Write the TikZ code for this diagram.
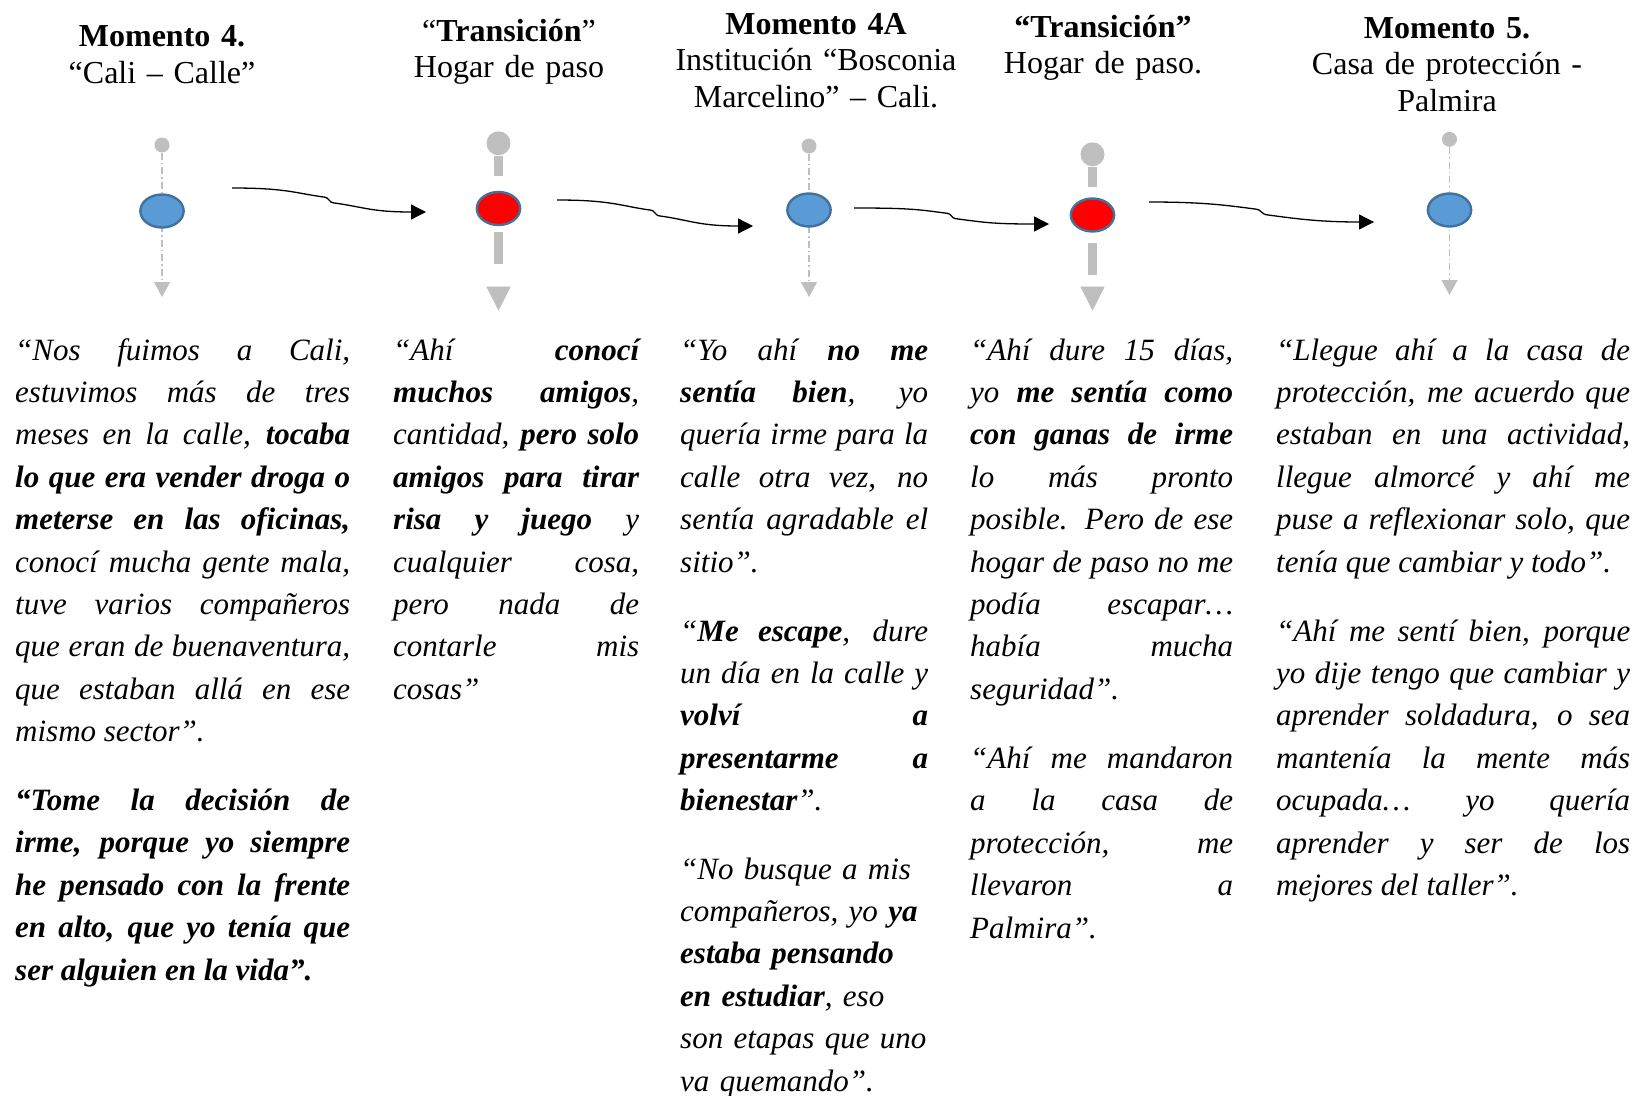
\documentclass[tikz,border=0pt]{standalone}
\usepackage{fontspec}
\setmainfont{Liberation Serif}
\usetikzlibrary{arrows.meta,calc,shapes.geometric}
\definecolor{dotblue}{HTML}{5B9BD5}
\definecolor{rimblue}{HTML}{41719C}
\definecolor{stemgray}{HTML}{BFBFBF}
\tolerance=10000
\hbadness=10000
\hyphenpenalty=10000
\tikzset{
	stagetitle/.style={font=\fontsize{32}{36.7}\selectfont, align=center, text width=360pt, inner sep=0pt, anchor=base},
	saying/.style={font=\fontsize{31}{42.4}\selectfont\itshape, align=justify, inner sep=0pt, anchor=base west},
	blueball/.style={ellipse, draw=rimblue, fill=dotblue, line width=2.4pt, minimum width=43.3pt, minimum height=33pt, inner sep=0pt},
	redball/.style={blueball, fill=red},
	tipdot/.style={circle, fill=stemgray, inner sep=0pt, minimum size=15pt},
	bigtipdot/.style={tipdot, minimum size=24pt},
	thinstem/.style={draw=stemgray, line width=1.2pt, dash pattern=on 7pt off 3pt on 1.5pt off 3pt, -{Triangle[length=15pt,width=16pt]}},
	thickstem/.style={draw=stemgray, line width=8.3pt, dash pattern=on 20pt off 56.5pt on 31.5pt off 60pt, -{Triangle[length=24pt,width=24pt,line width=0.5pt]}},
	flowarrow/.style={draw=black, line width=1.3pt, -{Triangle[length=15pt,width=15pt]}}
}
\begin{document}
\begin{tikzpicture}[x=1pt,y=-1pt]
		\useasboundingbox (0,0) rectangle (1635,1095);
		% titles
		\node[stagetitle] (h1) at (162,46.5) {{\bfseries Momento 4.}\\“Cali – Calle”};
		\node[stagetitle] (h2) at (509,41) {“{\bfseries Transición}”\\Hogar de paso};
		\node[stagetitle] (h3) at (816,34) {{\bfseries Momento 4A}\\Institución “Bosconia\\Marcelino” – Cali.};
		\node[stagetitle] (h4) at (1103,37) {{\bfseries “Transición”}\\Hogar de paso.};
		\node[stagetitle] (h5) at (1447,38) {{\bfseries Momento 5.}\\Casa de protección -\\Palmira};
		% stems
		\node[tipdot] (d1) at (162,145) {};
		\coordinate (t1) at (162,297);
		\draw[thinstem] (d1) -- (t1);
		\node[bigtipdot] (d2) at (498.5,143.3) {};
		\coordinate (t2) at (498.5,310.7);
		\draw[thickstem] (d2) -- (t2);
		\node[tipdot] (d3) at (809,146) {};
		\coordinate (t3) at (809,297);
		\draw[thinstem] (d3) -- (t3);
		\node[bigtipdot] (d4) at (1092.5,154.3) {};
		\coordinate (t4) at (1092.5,310.7);
		\draw[thickstem] (d4) -- (t4);
		\node[tipdot] (d5) at (1449.5,139.3) {};
		\coordinate (t5) at (1449.5,295);
		\draw[thinstem] (d5) -- (t5);
		% moments
		\node[blueball] (m1) at (162,211) {};
		\node[redball] (m2) at (498.5,208.5) {};
		\node[blueball] (m3) at (809,210) {};
		\node[redball] (m4) at (1092.5,215) {};
		\node[blueball] (m5) at (1449.5,210) {};
		% arrows
		\coordinate (a1s) at (232,188);
		\coordinate (a1e) at (426,212);
		\coordinate (a2s) at (557,200);
		\coordinate (a2e) at (753,226);
		\coordinate (a3s) at (854,208);
		\coordinate (a3e) at (1049,224);
		\coordinate (a4s) at (1149,202);
		\coordinate (a4e) at (1374,222);
		\draw[flowarrow] (a1s) .. controls +(55,0) and +(-30,-4) .. ($(a1s)!.48!(a1e)+(0,-2.3)$) .. controls +(3,0) and +(-3,0) .. ($(a1s)!.52!(a1e)+(0,2.3)$) .. controls +(30,4) and +(-55,0) .. (a1e);
		\draw[flowarrow] (a2s) .. controls +(55,0) and +(-30,-4) .. ($(a2s)!.48!(a2e)+(0,-2.3)$) .. controls +(3,0) and +(-3,0) .. ($(a2s)!.52!(a2e)+(0,2.3)$) .. controls +(30,4) and +(-55,0) .. (a2e);
		\draw[flowarrow] (a3s) .. controls +(55,0) and +(-30,-4) .. ($(a3s)!.48!(a3e)+(0,-2.3)$) .. controls +(3,0) and +(-3,0) .. ($(a3s)!.52!(a3e)+(0,2.3)$) .. controls +(30,4) and +(-55,0) .. (a3e);
		\draw[flowarrow] (a4s) .. controls +(55,0) and +(-30,-4) .. ($(a4s)!.48!(a4e)+(0,-2.3)$) .. controls +(3,0) and +(-3,0) .. ($(a4s)!.52!(a4e)+(0,2.3)$) .. controls +(30,4) and +(-55,0) .. (a4e);
		% testimonies
		\node[saying, text width=335pt] (q1a) at (15,360) {“Nos fuimos a Cali,\linebreak estuvimos más de tres\linebreak meses en la calle, {\bfseries tocaba\linebreak lo que era vender droga o\linebreak meterse en las oficinas,}\linebreak conocí mucha gente mala,\linebreak tuve varios compañeros\linebreak que eran de buenaventura,\linebreak que estaban allá en ese\linebreak mismo sector”.};
		\node[saying, text width=335pt] (q1b) at (15,810.5) {\bfseries “Tome la decisión de\linebreak irme, porque yo siempre\linebreak he pensado con la frente\linebreak en alto, que yo tenía que\linebreak ser alguien en la vida”.};
		\node[saying, text width=246pt] (q2a) at (393,360) {“Ahí {\bfseries conocí\linebreak muchos amigos},\linebreak cantidad, {\bfseries pero solo\linebreak amigos para tirar\linebreak risa y juego} y\linebreak cualquier cosa,\linebreak pero nada de\linebreak contarle mis\linebreak cosas”};
		\node[saying, text width=248pt] (q3a) at (680,360) {“Yo ahí {\bfseries no me\linebreak sentía bien}, yo\linebreak quería irme para la\linebreak calle otra vez, no\linebreak sentía agradable el\linebreak sitio”.};
		\node[saying, text width=248pt] (q3b) at (680,641) {“{\bfseries Me escape}, dure\linebreak un día en la calle y\linebreak {\bfseries volví a\linebreak presentarme a\linebreak bienestar}”.};
		\node[saying, text width=248pt, align=left] (q3c) at (680,879) {“No busque a mis\newline compañeros, yo {\bfseries ya\newline estaba pensando\newline en estudiar}, eso\newline son etapas que uno\newline va quemando”.};
		\node[saying, text width=263pt] (q4a) at (970,360) {“Ahí dure 15 días,\linebreak yo {\bfseries me sentía como\linebreak con ganas de irme}\linebreak lo más pronto\linebreak posible. Pero de ese\linebreak hogar de paso no me\linebreak podía escapar…\linebreak había mucha\linebreak seguridad”.};
		\node[saying, text width=263pt] (q4b) at (970,768.5) {“Ahí me mandaron\linebreak a la casa de\linebreak protección, me\linebreak llevaron a\linebreak Palmira”.};
		\node[saying, text width=354pt] (q5a) at (1276,360) {“Llegue ahí a la casa de\linebreak protección, me acuerdo que\linebreak estaban en una actividad,\linebreak llegue almorcé y ahí me\linebreak puse a reflexionar solo, que\linebreak tenía que cambiar y todo”.};
		\node[saying, text width=354pt] (q5b) at (1276,641) {“Ahí me sentí bien, porque\linebreak yo dije tengo que cambiar y\linebreak aprender soldadura, o sea\linebreak mantenía la mente más\linebreak ocupada… yo quería\linebreak aprender y ser de los\linebreak mejores del taller”.};
\end{tikzpicture}
\end{document}
